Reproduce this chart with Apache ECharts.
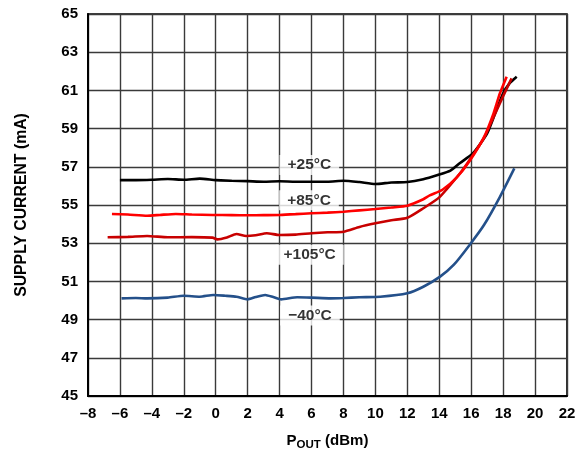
<!DOCTYPE html>
<html>
<head>
<meta charset="utf-8">
<script src="https://cdn.jsdelivr.net/npm/echarts@6/dist/echarts.min.js"></script>
<style>
html,body{margin:0;padding:0;background:#fff;}
#c{width:575px;height:452px;}
</style>
</head>
<body>
<div id="c"></div>
<script>
// Data
const xTicks = [-8,-6,-4,-2,0,2,4,6,8,10,12,14,16,18,20,22];
const yTicks = [45,47,49,51,53,55,57,59,61,63,65];

const t25x = [-6,-5,-4,-3,-2,-1,0,1,2,3,4,5,6,7,8,9,10,11,12,13,13.9,14.7,15.3,16.1,17,17.5,18,18.4,18.85];
const t25y = [56.3,56.3,56.32,56.36,56.32,56.38,56.3,56.27,56.25,56.22,56.24,56.22,56.22,56.22,56.27,56.2,56.1,56.18,56.2,56.35,56.57,56.8,57.2,57.7,58.75,59.8,60.85,61.37,61.72];

const t85x = [-6.5,-5.5,-4.3,-3.5,-2.5,-1.5,-0.2,1,2,3,4,5,6,7,8,9,10,11,12,13,13.4,14.2,15.1,15.9,16.8,17.4,17.8,18.22];
const t85y = [54.53,54.5,54.44,54.48,54.53,54.5,54.48,54.47,54.46,54.47,54.48,54.52,54.57,54.6,54.65,54.72,54.79,54.87,54.96,55.3,55.5,55.8,56.45,57.3,58.55,59.8,60.85,61.72];

const t105x = [-6.77,-5.5,-4.3,-3,-1.5,-0.2,0.1,0.7,1.3,1.9,2.5,3.2,4,5,6,7,8,9,10,11,12,13,14,15.3,15.9,16.8,17.4,18,18.53];
const t105y = [53.31,53.33,53.38,53.31,53.32,53.29,53.2,53.3,53.48,53.38,53.42,53.52,53.43,53.45,53.52,53.57,53.6,53.85,54.04,54.2,54.33,54.83,55.4,56.66,57.36,58.5,59.6,60.7,61.63];

const tm40x = [-5.9,-5,-4.3,-3,-2,-1,-0.15,0.6,1.3,2.0,2.5,3.1,3.6,4.1,5.1,6,7.2,8,9,10.3,12,13,14.05,14.9,15.9,16.8,17.8,18.7];
const tm40y = [50.11,50.13,50.11,50.15,50.25,50.2,50.29,50.25,50.2,50.06,50.18,50.29,50.18,50.06,50.17,50.15,50.11,50.13,50.17,50.2,50.38,50.72,51.25,51.86,52.91,53.95,55.43,56.92];

const seriesNames = ['+25°C','+85°C','+105°C','\u221240°C'];

function pairs(xs, ys){ return xs.map((x,i)=>[x, ys[i]]); }
const dash = v => String(v).replace('-', '\u2013');

const FONT = "'Liberation Sans', Arial, sans-serif";
const chart = echarts.init(document.getElementById('c'), null, {renderer:'canvas'});

const lineBase = {type:'line', showSymbol:false, smooth:0.2};

const option = {
  animation:false,
  backgroundColor:'#fff',
  grid:{left:88, right:8, top:14, bottom:56, show:true, borderColor:'#000', borderWidth:1.6, containLabel:false, outerBoundsMode:'none'},
  xAxis:{
    type:'value', min:-8, max:22, interval:2,
    axisLine:{show:true, onZero:false, lineStyle:{color:'#000', width:2}},
    axisTick:{show:false},
    splitLine:{show:true, lineStyle:{color:'#3a3a3a', width:1.4}},
    axisLabel:{color:'#000', fontFamily:FONT, fontWeight:'bold', fontSize:15, margin:10, formatter:dash},
    name:'{p|P}{s|OUT}{p| (dBm)}',
    nameLocation:'middle', nameGap:37,
    nameTextStyle:{
      rich:{
        p:{fontFamily:FONT, fontWeight:'bold', fontSize:15, color:'#000', verticalAlign:'top', lineHeight:18},
        s:{fontFamily:FONT, fontWeight:'bold', fontSize:11.5, color:'#000', verticalAlign:'top', lineHeight:18, padding:[6,0,0,0]}
      }
    }
  },
  yAxis:{
    type:'value', min:45, max:65, interval:2,
    axisLine:{show:true, onZero:false, lineStyle:{color:'#000', width:2}},
    axisTick:{show:false},
    splitLine:{show:true, lineStyle:{color:'#3a3a3a', width:1.4}},
    axisLabel:{color:'#000', fontFamily:FONT, fontWeight:'bold', fontSize:15, margin:10},
    name:'SUPPLY CURRENT (mA)',
    nameLocation:'middle', nameGap:58,
    nameTextStyle:{fontFamily:FONT, fontWeight:'bold', fontSize:15.8, color:'#000'}
  },
  series:[
    Object.assign({}, lineBase, {name:seriesNames[0], data:pairs(t25x,t25y), lineStyle:{width:2.6, color:'#000000'}, itemStyle:{color:'#000000'}}),
    Object.assign({}, lineBase, {name:seriesNames[3], data:pairs(tm40x,tm40y), lineStyle:{width:2.6, color:'#24508a'}, itemStyle:{color:'#24508a'}}),
    Object.assign({}, lineBase, {name:seriesNames[2], data:pairs(t105x,t105y), lineStyle:{width:2.6, color:'#c80000'}, itemStyle:{color:'#c80000'}}),
    Object.assign({}, lineBase, {name:seriesNames[1], data:pairs(t85x,t85y), lineStyle:{width:2.6, color:'#ff0000'}, itemStyle:{color:'#ff0000'}}),
    {
      type:'scatter', symbolSize:0, silent:true, z:5,
      data:[
        {value:[5.86,57.1], name:seriesNames[0]},
        {value:[5.84,55.25], name:seriesNames[1]},
        {value:[5.88,52.4], name:seriesNames[2]},
        {value:[5.9,49.22], name:seriesNames[3]}
      ],
      label:{
        show:true, position:'inside', formatter:p=>p.name,
        fontFamily:FONT, fontWeight:'bold', fontSize:15.5, color:'#000',
        backgroundColor:'#fff', padding:[2,8]
      }
    }
  ]
};
chart.setOption(option);
</script>
</body>
</html>
